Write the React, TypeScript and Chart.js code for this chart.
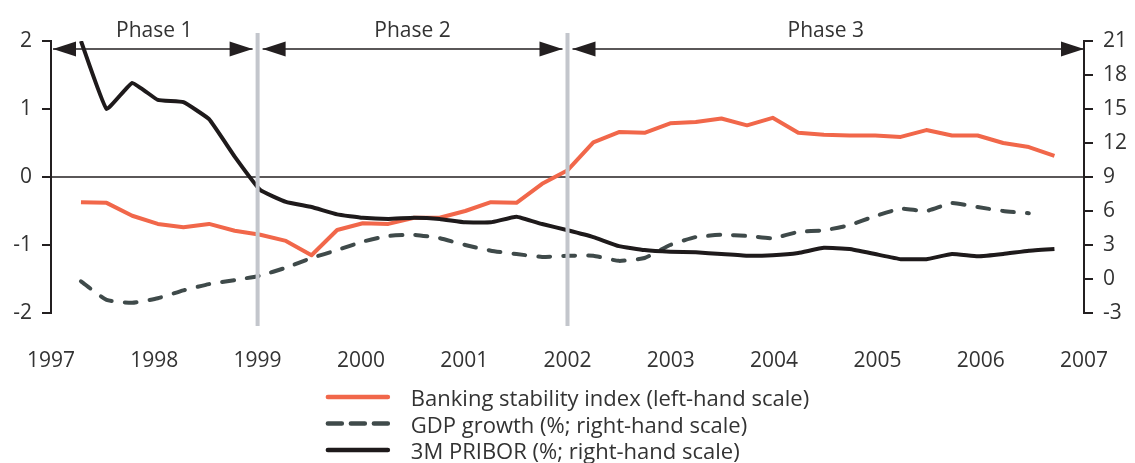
import React, { useEffect, useRef } from "react";
import { Chart, registerables } from "chart.js";

Chart.register(...registerables);

// ---- data ----
const firstQuarter = 1997.29; // decimal-year position of first quarterly observation
const quarterStep = 0.248;

const bankingStabilityIndex = [
  -0.37, -0.38, -0.57, -0.69, -0.74, -0.69, -0.79, -0.85, -0.94, -1.15,
  -0.78, -0.68, -0.69, -0.6, -0.6, -0.5, -0.37, -0.38, -0.1, 0.1,
  0.51, 0.66, 0.65, 0.79, 0.81, 0.86, 0.76, 0.87, 0.65, 0.62,
  0.61, 0.61, 0.59, 0.69, 0.61, 0.61, 0.5, 0.44, 0.31,
];

const gdpGrowth = [
  -0.2, -1.85, -2.1, -1.7, -1.0, -0.45, -0.1, 0.3, 1.0, 1.85,
  2.55, 3.3, 3.8, 3.9, 3.6, 3.0, 2.5, 2.2, 1.95, 2.05,
  2.05, 1.6, 1.85, 3.0, 3.7, 3.9, 3.8, 3.6, 4.15, 4.3,
  4.75, 5.55, 6.2, 6.0, 6.7, 6.35, 6.0, 5.8, null,
];

const pribor3m = [
  21.0, 15.0, 17.3, 15.8, 15.6, 14.1, 10.8, 7.85, 6.8, 6.35,
  5.7, 5.4, 5.3, 5.4, 5.3, 5.0, 5.0, 5.5, 4.85, 4.3,
  3.7, 2.9, 2.55, 2.4, 2.35, 2.2, 2.05, 2.1, 2.3, 2.75,
  2.65, 2.2, 1.75, 1.75, 2.2, 2.0, 2.2, 2.5, 2.65,
];

const yearTicks = [1997, 1998, 1999, 2000, 2001, 2002, 2003, 2004, 2005, 2006, 2007];
const leftTicks = [-2, -1, 0, 1, 2];
const rightTicks = [-3, 0, 3, 6, 9, 12, 15, 18, 21];

const phaseLabels = ["Phase 1", "Phase 2", "Phase 3"];
const phaseBounds = [1997, 1999, 2002, 2007];

const seriesLabels = [
  "Banking stability index (left-hand scale)",
  "GDP growth (%; right-hand scale)",
  "3M PRIBOR (%; right-hand scale)",
];

const COLORS = {
  orange: "#F1674A",
  gray: "#3F4A4A",
  black: "#1E1A1B",
  axis: "#231F20",
  text: "#333333",
  divider: "#C3C6CC",
};
const FONT = "'Open Sans', 'DejaVu Sans', sans-serif";

function toPoints(values: (number | null)[]) {
  return values.map((v, i) => ({ x: firstQuarter + i * quarterStep, y: v }));
}

const overlayPlugin = {
  id: "overlay",
  beforeDatasetsDraw(chart: any) {
    const { ctx, chartArea, scales } = chart;
    const y0 = scales.y.getPixelForValue(0);
    ctx.save();
    ctx.strokeStyle = COLORS.axis;
    ctx.lineWidth = 1.5;
    ctx.beginPath();
    ctx.moveTo(chartArea.left, y0);
    ctx.lineTo(chartArea.right, y0);
    ctx.stroke();
    ctx.restore();
  },
  afterDatasetsDraw(chart: any) {
    const { ctx, chartArea, scales } = chart;
    const xs = scales.x;
    ctx.save();
    // dividers
    ctx.strokeStyle = COLORS.divider;
    ctx.lineWidth = 4;
    for (let i = 1; i < phaseBounds.length - 1; i++) {
      const px = xs.getPixelForValue(phaseBounds[i]);
      ctx.beginPath();
      ctx.moveTo(px, chartArea.top - 8);
      ctx.lineTo(px, chartArea.bottom + 13);
      ctx.stroke();
    }
    // phase arrows
    const ay = chartArea.top + 8;
    const headLen = 23;
    const headHalf = 7.5;
    ctx.fillStyle = COLORS.axis;
    ctx.strokeStyle = COLORS.axis;
    ctx.lineWidth = 1.5;
    for (let i = 0; i < phaseLabels.length; i++) {
      const a = xs.getPixelForValue(phaseBounds[i]);
      const b = xs.getPixelForValue(phaseBounds[i + 1]);
      const x1 = a + (i > 0 ? 5 : 2);
      const x2 = b - (i < phaseLabels.length - 1 ? 5 : 0);
      ctx.beginPath();
      ctx.moveTo(x1, ay);
      ctx.lineTo(x2, ay);
      ctx.stroke();
      ctx.beginPath();
      ctx.moveTo(x1, ay);
      ctx.lineTo(x1 + headLen, ay - headHalf);
      ctx.lineTo(x1 + headLen, ay + headHalf);
      ctx.closePath();
      ctx.fill();
      ctx.beginPath();
      ctx.moveTo(x2, ay);
      ctx.lineTo(x2 - headLen, ay - headHalf);
      ctx.lineTo(x2 - headLen, ay + headHalf);
      ctx.closePath();
      ctx.fill();
      ctx.font = `21px ${FONT}`;
      ctx.fillStyle = COLORS.text;
      ctx.textAlign = "center";
      ctx.textBaseline = "alphabetic";
      ctx.fillText(phaseLabels[i], (a + b) / 2, ay - 12);
      ctx.fillStyle = COLORS.axis;
    }
    ctx.restore();
  },
  afterDraw(chart: any) {
    const { ctx, chartArea } = chart;
    ctx.save();
    ctx.font = `22px ${FONT}`;
    const sampleLen = 62;
    const gap = 23;
    let maxW = 0;
    seriesLabels.forEach((t) => {
      maxW = Math.max(maxW, ctx.measureText(t).width);
    });
    const blockW = sampleLen + gap + maxW;
    const cx = (chartArea.left + chartArea.right) / 2;
    const startX = cx - blockW / 2;
    const rowY0 = chartArea.bottom + 84;
    const rowStep = 26.5;
    const styles = [
      { color: COLORS.orange, dash: [] as number[] },
      { color: COLORS.gray, dash: [14, 9] },
      { color: COLORS.black, dash: [] as number[] },
    ];
    seriesLabels.forEach((t, i) => {
      const y = rowY0 + i * rowStep;
      ctx.strokeStyle = styles[i].color;
      ctx.lineWidth = 4.5;
      ctx.lineCap = "round";
      ctx.setLineDash(styles[i].dash);
      ctx.beginPath();
      ctx.moveTo(startX + 2, y);
      ctx.lineTo(startX + sampleLen, y);
      ctx.stroke();
      ctx.setLineDash([]);
      ctx.fillStyle = COLORS.text;
      ctx.textAlign = "left";
      ctx.textBaseline = "alphabetic";
      ctx.fillText(t, startX + sampleLen + gap, y + 9);
    });
    ctx.restore();
  },
};

export default function App() {
  const canvasRef = useRef<HTMLCanvasElement | null>(null);

  useEffect(() => {
    const canvas = canvasRef.current;
    if (!canvas) return;
    Chart.defaults.font.family = FONT;
    const tickFont = { size: 21, family: FONT };
    const chart = new Chart(canvas, {
      type: "line",
      data: {
        datasets: [
          {
            label: seriesLabels[0],
            data: toPoints(bankingStabilityIndex),
            yAxisID: "y",
            borderColor: COLORS.orange,
            borderWidth: 4,
            pointRadius: 0,
            tension: 0,
            borderJoinStyle: "round",
            order: 2,
          },
          {
            label: seriesLabels[1],
            data: toPoints(gdpGrowth),
            yAxisID: "y1",
            borderColor: COLORS.gray,
            borderWidth: 4,
            borderDash: [12, 13],
            borderCapStyle: "round",
            pointRadius: 0,
            tension: 0.15,
            order: 1,
          },
          {
            label: seriesLabels[2],
            data: toPoints(pribor3m),
            yAxisID: "y1",
            borderColor: COLORS.black,
            borderWidth: 4,
            pointRadius: 0,
            tension: 0.1,
            borderJoinStyle: "round",
            order: 0,
          },
        ],
      },
      options: {
        responsive: false,
        animation: false,
        layout: { padding: { left: 0, right: 0, top: 41, bottom: 0 } },
        plugins: {
          legend: { display: false },
          tooltip: { enabled: false },
        },
        scales: {
          x: {
            type: "linear",
            min: 1997,
            max: 2007,
            grid: { display: false },
            border: { display: false },
            afterBuildTicks: (s: any) => {
              s.ticks = yearTicks.map((v) => ({ value: v }));
            },
            afterFit: (s: any) => {
              s.height = 150;
            },
            ticks: {
              font: tickFont,
              color: COLORS.text,
              padding: 27,
              maxRotation: 0,
              autoSkip: false,
              callback: (v: any) => String(v),
            },
          },
          y: {
            position: "left",
            min: -2,
            max: 2,
            afterBuildTicks: (s: any) => {
              s.ticks = leftTicks.map((v) => ({ value: v }));
            },
            afterFit: (s: any) => {
              s.width = 48;
            },
            grid: {
              display: true,
              drawOnChartArea: false,
              drawTicks: true,
              tickLength: 9,
              color: COLORS.axis,
              lineWidth: 2,
            },
            border: { display: true, color: COLORS.axis, width: 2 },
            ticks: {
              font: tickFont,
              color: COLORS.text,
              padding: 10,
              callback: (v: any) => String(v),
            },
          },
          y1: {
            position: "right",
            min: -3,
            max: 21,
            afterBuildTicks: (s: any) => {
              s.ticks = rightTicks.map((v) => ({ value: v }));
            },
            afterFit: (s: any) => {
              s.width = 48;
            },
            grid: {
              display: true,
              drawOnChartArea: false,
              drawTicks: true,
              tickLength: 9,
              color: COLORS.axis,
              lineWidth: 2,
            },
            border: { display: true, color: COLORS.axis, width: 2 },
            ticks: {
              font: tickFont,
              color: COLORS.text,
              padding: 10,
              callback: (v: any) => String(v),
            },
          },
        },
      } as any,
      plugins: [overlayPlugin],
    });
    return () => chart.destroy();
  }, []);

  return (
    <div style={{ position: "fixed", left: 0, top: 0, width: 1135, height: 463, background: "#fff" }}>
      <canvas ref={canvasRef} width={1135} height={463} style={{ display: "block" }} />
    </div>
  );
}
